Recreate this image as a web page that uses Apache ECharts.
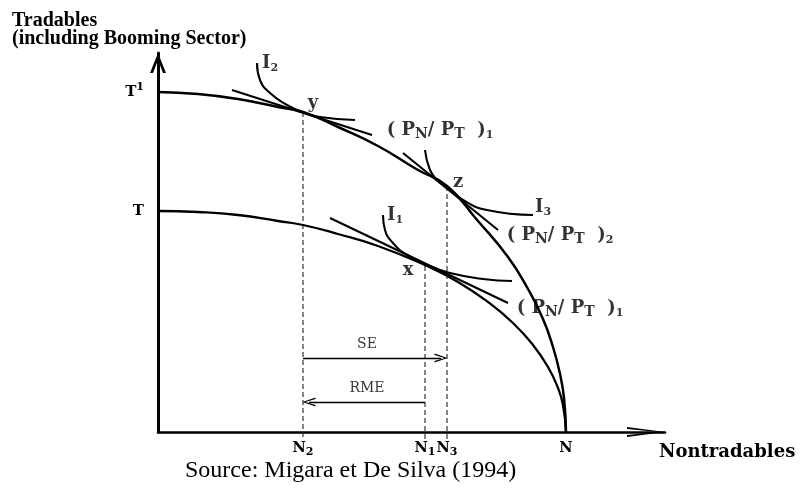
<!DOCTYPE html>
<html><head><meta charset="utf-8">
<script src="https://cdn.jsdelivr.net/npm/echarts@6/dist/echarts.min.js"></script>
<style>html,body{margin:0;padding:0;background:#fff}#c{width:806px;height:491px}</style>
</head><body><div id="c"></div>
<script>
// ---- Data (units: distance from the origin along each axis) ----
const outerPPF = [[0,340],[40,338],[80,333],[120,325],[145,320],[180,305],[220,286],[260,262],[289,246],[320,211],[350,175],[370,143],[385,113],[395,85],[402,58],[406,34],[408,0]];
const innerPPF = [[0,221],[40,220],[80,217],[120,211],[145,207],[180,198],[220,186],[269,166],[300,150],[330,130],[355,109],[375,87],[390,65],[400,44],[405,27],[408,0]];
const tangentY = [[74,342],[214,297]];
const tangentZ = [[245,279],[340,202]];
const tangentX = [[172,214],[350,129]];
const curveI2 = [[99,369],[102,352],[112,339],[129,327],[144,320],[162,315],[197,312]];
const curveI3 = [[267,282],[272,262],[280,251],[289,245],[305,232],[329,222],[375,217]];
const curveI1 = [[225,217],[227,202],[235,189],[249,177],[269,167],[292,159],[325,153],[354,151]];
const dropN2 = [[145,320],[145,-8]];
const dropN1 = [[267,166],[267,-8]];
const dropN3 = [[289,246],[289,-8]];
const arrowSE = [[145,74],[283,74]];
const arrowRME = [[267,30],[151,30]];
const xTickValues = [145,267,289,408];
const xTickLabels = ['N{s|2}','N{s|1}','N{s|3}','N'];
const yTickValues = [221,340];
const yTickLabels = ['T','T{p|1}'];
const pointNames = ['I{s|2}','y','( P{n|N}/ P{n|T}  ){s|1}','z','I{s|3}','( P{n|N}/ P{n|T}  ){s|2}','I{s|1}','x','( P{n|N}/ P{n|T}  ){s|1}'];
const pointPos = [[112,369],[155,329],[282,302],[300,250],[385,225],[402,197],[237,217],[250,162],[412,124]];
const effectNames = ['SE','RME'];
const effectPos = [[209,88],[209,44]];
const headerText = 'Tradables\n(including Booming Sector)';
const xAxisTitle = 'Nontradables';
const sourceText = 'Source: Migara et De Silva (1994)';

// ---- Styles ----
const SERIF = 'DejaVu Serif';
const richSub = {
  s: {fontFamily: SERIF, fontWeight: 'bold', fontSize: 11, verticalAlign: 'bottom', lineHeight: 11, color: '#000'},
  n: {fontFamily: SERIF, fontWeight: 'bold', fontSize: 14, verticalAlign: 'bottom', lineHeight: 17, color: '#000'},
  p: {fontFamily: SERIF, fontWeight: 'bold', fontSize: 11, verticalAlign: 'top', lineHeight: 10, color: '#000'}
};
const chevronY = 'path://M8,0 L16,20 L13,20 L8,7 L3,20 L0,20 Z';
const chevronX = 'path://M5,0 L10,38 L8,38 L5,7 L2,38 L0,38 Z';
const chevronSmall = 'path://M4.5,0 L9,13 L7.6,13 L4.5,3 L1.4,13 L0,13 Z';

function curve(data, width) {
  return {type: 'line', data: data, smooth: true, showSymbol: false, silent: true,
    lineStyle: {color: '#000', width: width}, z: 3};
}
function straight(data, width) {
  return {type: 'line', data: data, smooth: false, showSymbol: false, silent: true,
    lineStyle: {color: '#000', width: width}, z: 3};
}
function dashed(data) {
  return {type: 'line', data: data, showSymbol: false, silent: true, clip: false,
    lineStyle: {color: '#222', width: 1.1, type: [5, 3]}, z: 2};
}

const chart = echarts.init(document.getElementById('c'), null, {renderer: 'canvas'});
chart.setOption({
  animation: false,
  backgroundColor: '#fff',
  title: [
    {text: headerText, left: 12, top: 12, padding: 0,
     textStyle: {fontFamily: 'Liberation Serif', fontWeight: 'bold', fontSize: 20, lineHeight: 18, color: '#000'}},
    {text: xAxisTitle, left: 659, top: 442, padding: 0,
     textStyle: {fontFamily: SERIF, fontWeight: 'bold', fontSize: 18, lineHeight: 20, color: '#000'}},
    {text: sourceText, left: 185, top: 459, padding: 0,
     textStyle: {fontFamily: 'Liberation Serif', fontWeight: 'normal', fontSize: 24, lineHeight: 24, color: '#000'}}
  ],
  grid: {left: 158, top: 53, right: 141, bottom: 59, containLabel: false, outerBoundsMode: 'none'},
  xAxis: {
    type: 'value', min: 0, max: 507,
    axisLine: {show: true, onZero: false, lineStyle: {color: '#000', width: 2.5},
      symbol: ['none', chevronX], symbolSize: [10, 38], symbolOffset: [0, -19]},
    axisTick: {show: false}, splitLine: {show: false},
    axisLabel: {
      customValues: xTickValues, margin: 6, color: '#000',
      fontFamily: SERIF, fontWeight: 'bold', fontSize: 14.5, lineHeight: 20,
      formatter: function (v) { const i = xTickValues.indexOf(v); return i >= 0 ? xTickLabels[i] : ''; },
      rich: richSub
    }
  },
  yAxis: {
    type: 'value', min: 0, max: 379,
    axisLine: {show: true, onZero: false, lineStyle: {color: '#000', width: 3},
      symbol: ['none', chevronY], symbolSize: [16, 20], symbolOffset: [0, -10]},
    axisTick: {show: false}, splitLine: {show: false},
    axisLabel: {
      customValues: yTickValues, margin: 14, color: '#000',
      fontFamily: SERIF, fontWeight: 'bold', fontSize: 15, lineHeight: 20,
      formatter: function (v) { const i = yTickValues.indexOf(v); return i >= 0 ? yTickLabels[i] : ''; },
      rich: richSub
    }
  },
  series: [
    curve(outerPPF, 2.5),
    curve(innerPPF, 2.3),
    straight(tangentY, 2.1),
    straight(tangentZ, 2.1),
    straight(tangentX, 2.1),
    curve(curveI2, 2.1),
    curve(curveI3, 2.1),
    curve(curveI1, 2.1),
    dashed(dropN2),
    dashed(dropN1),
    dashed(dropN3),
    {
      type: 'line', data: [], silent: true,
      markLine: {
        silent: true, symbol: ['none', chevronSmall], symbolSize: [9, 13],
        label: {show: false}, emphasis: {disabled: true},
        lineStyle: {color: '#000', width: 1.3, type: 'solid'},
        data: [
          [{coord: arrowSE[0]}, {coord: arrowSE[1]}],
          [{coord: arrowRME[0]}, {coord: arrowRME[1]}]
        ]
      }
    },
    {
      type: 'scatter', symbolSize: 0, silent: true, z: 5,
      data: pointNames.map(function (n, i) { return {name: n, value: pointPos[i]}; }),
      label: {show: true, position: 'inside', color: '#000', fontFamily: SERIF, fontWeight: 'bold',
        fontSize: 18, lineHeight: 22, formatter: function (p) { return p.name; }, rich: richSub}
    },
    {
      type: 'scatter', symbolSize: 0, silent: true, z: 5,
      data: effectNames.map(function (n, i) { return {name: n, value: effectPos[i]}; }),
      label: {show: true, position: 'inside', color: '#000', fontFamily: SERIF, fontWeight: 'normal',
        fontSize: 14, formatter: function (p) { return p.name; }}
    }
  ]
});
</script>
</body></html>
